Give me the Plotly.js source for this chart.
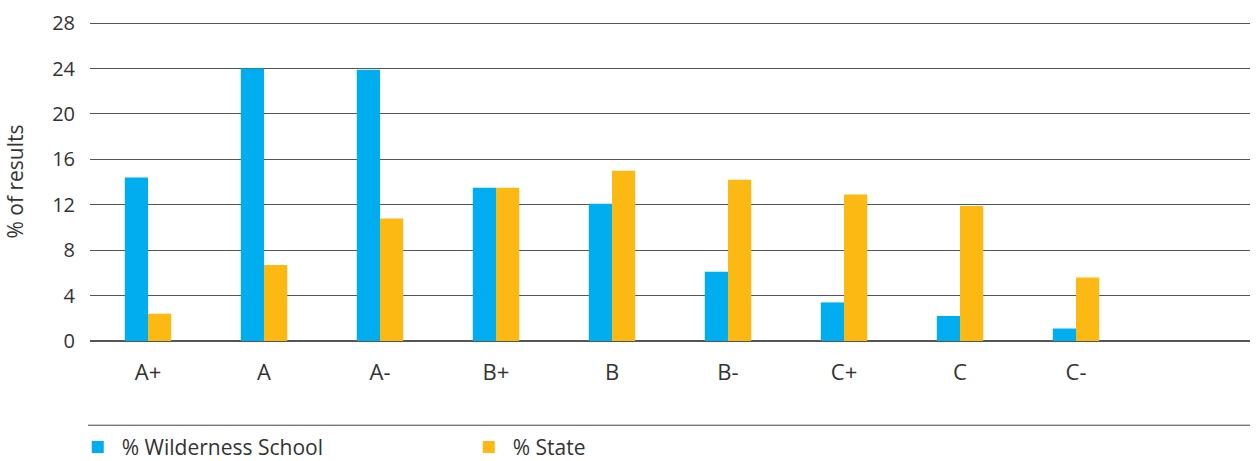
<!DOCTYPE html>
<html>
<head>
<meta charset="utf-8">
<script src="https://cdn.plot.ly/plotly-3.0.1.min.js"></script>
<style>html,body{margin:0;padding:0;background:#fff;}#chart{width:1257px;height:461px;}</style>
</head>
<body>
<div id="chart"></div>
<script>
const categories = ["A+", "A", "A-", "B+", "B", "B-", "C+", "C", "C-"];
const wilderness = [14.4, 24.0, 23.9, 13.5, 12.1, 6.1, 3.4, 2.2, 1.1];
const state = [2.4, 6.7, 10.8, 13.5, 15.0, 14.2, 12.9, 11.9, 5.6];
const yTicks = [0, 4, 8, 12, 16, 20, 24, 28];

const fontFam = "'Open Sans', Roboto, sans-serif";
const traces = [
  {type: 'bar', name: '% Wilderness School', x: categories, y: wilderness, marker: {color: '#00ADEF'}},
  {type: 'bar', name: '% State', x: categories, y: state, marker: {color: '#FDB913'}}
];
const layout = {
  width: 1257, height: 461,
  margin: {l: 90, r: 7, t: 22, b: 120, autoexpand: false},
  paper_bgcolor: '#fff', plot_bgcolor: '#fff',
  font: {family: fontFam, size: 18, color: '#333'},
  barmode: 'group', bargap: 0.6, bargroupgap: 0,
  xaxis: {type: 'category', range: [-0.5, 9.5], showgrid: false, showline: false, ticks: '', ticklabelstandoff: 16, tickfont: {size: 22, color: '#333'}},
  yaxis: {range: [0, 28.1], tickvals: yTicks, showgrid: true, gridcolor: '#555', gridwidth: 1, zeroline: true, zerolinecolor: '#555', zerolinewidth: 1.5, ticks: '', ticklabelstandoff: 14, tickfont: {size: 20, color: '#333'},
    title: {text: '% of results', font: {size: 21, color: '#333'}, standoff: 22}},
  showlegend: true,
  legend: {orientation: 'h', x: -0.014, xanchor: 'left', y: -0.333, yanchor: 'middle', entrywidth: 338, bgcolor: 'rgba(0,0,0,0)', font: {size: 21, color: '#333'}, itemwidth: 38, tracegroupgap: 0},
  shapes: [
    {type: 'line', xref: 'paper', yref: 'paper', x0: -0.0017, x1: 1, y0: -0.264, y1: -0.264, line: {color: '#444', width: 1}}
  ]
};
Plotly.newPlot('chart', traces, layout, {displayModeBar: false});
</script>
</body>
</html>
